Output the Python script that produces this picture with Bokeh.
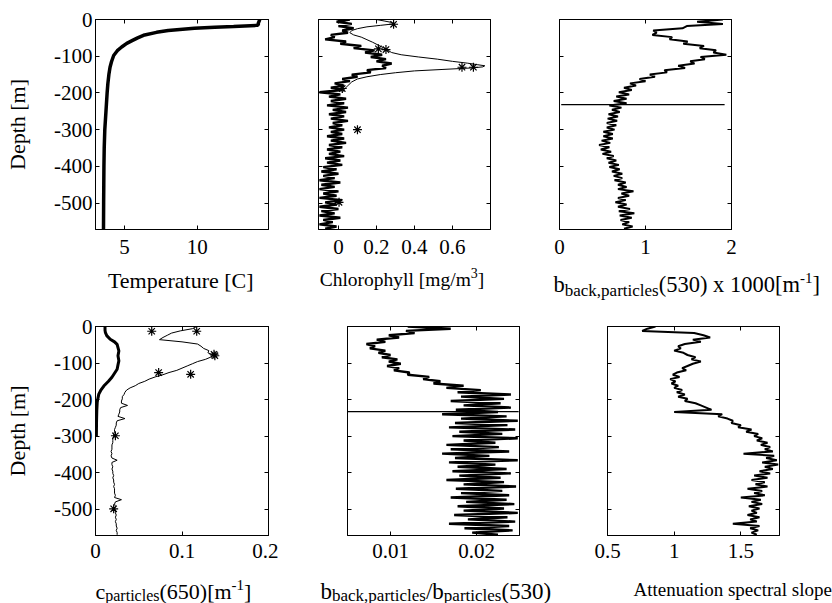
from bokeh.plotting import figure
from bokeh.models import Range1d, LinearAxis, FixedTicker
from bokeh.core.properties import value
from bokeh.layouts import row, column
from bokeh.embed import file_html
from bokeh.resources import INLINE

# ---------------------------------------------------------------- data
# common 6 m depth grid of the densely sampled profiles [m]
depth = [
    0, -6, -12, -18, -24, -30, -36, -42, -48, -54, -60, -66,
    -72, -78, -84, -90, -96, -102, -108, -114, -120, -126, -132, -138,
    -144, -150, -156, -162, -168, -174, -180, -186, -192, -198, -204, -210,
    -216, -222, -228, -234, -240, -246, -252, -258, -264, -270, -276, -282,
    -288, -294, -300, -306, -312, -318, -324, -330, -336, -342, -348, -354,
    -360, -366, -372, -378, -384, -390, -396, -402, -408, -414, -420, -426,
    -432, -438, -444, -450, -456, -462, -468, -474, -480, -486, -492, -498,
    -504, -510, -516, -522, -528, -534, -540, -546, -552, -558, -564, -570,
]

# temperature profile [C]
temp_depth = [0, -5, -10, -14, -16, -19, -21, -24, -27, -30, -35, -43, -50, -57, -65,
              -75, -85, -98, -115, -130, -150, -175, -200, -250, -300, -350, -400,
              -450, -500, -572]
temperature = [14.3, 14.25, 14.2, 14.2, 14.1, 12.5, 11.2, 9.8, 8.8, 8.0, 7.2, 6.3, 5.9,
               5.55, 5.15, 4.8, 4.5, 4.25, 4.1, 4.0, 3.92, 3.85, 3.8, 3.72, 3.64, 3.6,
               3.58, 3.57, 3.56, 3.55]

# chlorophyll, noisy fluorometer profile [mg/m3]
chl_profile = [
    0.06, -0.01, 0.07, 0.00, 0.08, 0.02, 0.05, -0.04, -0.02, -0.07, 0.04, 0.01,
    0.12, 0.08, 0.19, 0.14, 0.23, 0.17, 0.25, 0.20, 0.28, 0.23, 0.25, 0.15,
    0.17, 0.07, 0.10, 0.02, 0.06, -0.02, 0.03, -0.04, 0.02, -0.10, 0.01, -0.05,
    0.04, -0.04, 0.03, -0.06, 0.05, -0.03, 0.04, -0.05, 0.03, -0.04, 0.05, -0.03,
    0.02, -0.05, 0.03, -0.04, 0.02, -0.06, 0.03, -0.04, 0.04, -0.05, 0.02, -0.06,
    0.01, -0.05, 0.03, -0.07, 0.01, -0.06, 0.02, -0.08, -0.01, -0.09, 0.00, -0.08,
    -0.02, -0.10, 0.01, -0.09, -0.02, -0.10, 0.00, -0.08, -0.01, -0.10, 0.02, -0.07,
    -0.01, -0.10, 0.00, -0.09, -0.02, -0.10, 0.01, -0.08, -0.03, -0.10, -0.01, -0.07,
]
# chlorophyll, second (thin) profile
chl2_depth = [0, -4, -8, -12, -16, -20, -25, -30, -36, -42, -48, -55, -62, -70, -78, -84,
              -90, -96, -102, -108, -114, -119, -123, -126, -129, -132, -136, -140, -145,
              -150, -156, -162, -170, -180, -190, -200]
chl2 = [0.20, 0.24, 0.28, 0.29, 0.22, 0.15, 0.10, 0.07, 0.06, 0.08, 0.12, 0.15, 0.18, 0.21,
        0.24, 0.26, 0.28, 0.33, 0.42, 0.52, 0.60, 0.68, 0.73, 0.77, 0.76, 0.70, 0.55, 0.40,
        0.30, 0.22, 0.15, 0.10, 0.07, 0.05, 0.03, 0.02]
# bottle samples (stars)
chl_bottle_depth = [-13, -80, -82, -130, -130, -188, -300, -498]
chl_bottle = [0.29, 0.21, 0.25, 0.65, 0.71, 0.02, 0.10, 0.003]

# particulate backscattering b_bp(530) x 1000 [1/m]
bbp = [
    1.90, 1.60, 1.90, 1.48, 1.43, 1.09, 1.13, 1.08, 1.31, 1.28, 1.49, 1.44,
    1.68, 1.63, 1.82, 1.79, 1.94, 1.64, 1.69, 1.52, 1.57, 1.38, 1.46, 1.22,
    1.25, 1.05, 1.11, 0.93, 1.00, 0.82, 0.89, 0.75, 0.84, 0.69, 0.81, 0.66,
    0.78, 0.63, 0.78, 0.58, 0.72, 0.61, 0.70, 0.57, 0.68, 0.56, 0.67, 0.55,
    0.66, 0.55, 0.64, 0.51, 0.62, 0.51, 0.62, 0.49, 0.59, 0.46, 0.58, 0.48,
    0.60, 0.50, 0.63, 0.55, 0.66, 0.57, 0.69, 0.58, 0.70, 0.61, 0.73, 0.63,
    0.73, 0.64, 0.77, 0.68, 0.78, 0.68, 0.86, 0.72, 0.81, 0.68, 0.77, 0.65,
    0.78, 0.68, 0.82, 0.69, 0.87, 0.70, 0.84, 0.71, 0.81, 0.73, 0.85, 0.75,
]
spike_depth = [-232, -232]
bbp_spike = [0.02, 1.92]

# particulate beam attenuation c_p(650) [1/m]
cp = [
    0.117, 0.112, 0.098, 0.088, 0.083, 0.078, 0.074, 0.100, 0.118, 0.122, 0.125, 0.131,
    0.130, 0.136, 0.133, 0.127, 0.118, 0.112, 0.106, 0.100, 0.094, 0.085, 0.078, 0.069,
    0.062, 0.057, 0.050, 0.046, 0.040, 0.036, 0.034, 0.033, 0.031, 0.031, 0.030, 0.030,
    0.037, 0.029, 0.028, 0.028, 0.027, 0.026, 0.034, 0.025, 0.024, 0.024, 0.023, 0.022,
    0.022, 0.021, 0.021, 0.020, 0.020, 0.020, 0.019, 0.019, 0.019, 0.018, 0.019, 0.018,
    0.019, 0.025, 0.019, 0.019, 0.020, 0.019, 0.020, 0.020, 0.021, 0.020, 0.021, 0.021,
    0.022, 0.021, 0.022, 0.022, 0.022, 0.023, 0.022, 0.030, 0.023, 0.022, 0.023, 0.022,
    0.023, 0.023, 0.024, 0.023, 0.024, 0.023, 0.024, 0.024, 0.025, 0.024, 0.025, 0.025,
]
cp2_depth = [0, -10, -17, -25, -35, -42, -49, -58, -67, -80, -94, -105, -117, -128, -139,
             -150, -163, -175, -185, -200, -207, -230, -260, -300]
cp2 = [0.011, 0.011, 0.0115, 0.013, 0.017, 0.022, 0.025, 0.026, 0.027, 0.026, 0.027, 0.026,
       0.025, 0.022, 0.019, 0.015, 0.0096, 0.006, 0.0038, 0.0025, 0.002, 0.0015, 0.0012, 0.001]
cp_bottle_depth = [-13, -13, -76, -80, -126, -131, -299, -499]
cp_bottle = [0.065, 0.117, 0.137, 0.138, 0.073, 0.110, 0.023, 0.021]

# backscattering ratio b_bp/b_p(530)
bb_ratio = [
    0.0120, 0.0170, 0.0118, 0.0128, 0.0098, 0.0110, 0.0084, 0.0094, 0.0072, 0.0082, 0.0076, 0.0094,
    0.0086, 0.0100, 0.0090, 0.0108, 0.0098, 0.0112, 0.0096, 0.0110, 0.0104, 0.0122, 0.0120, 0.0145,
    0.0138, 0.0158, 0.0150, 0.0185, 0.0165, 0.0205, 0.0178, 0.0240, 0.0182, 0.0232, 0.0170, 0.0228,
    0.0185, 0.0240, 0.0176, 0.0225, 0.0160, 0.0235, 0.0182, 0.0248, 0.0175, 0.0236, 0.0168, 0.0245,
    0.0180, 0.0230, 0.0172, 0.0248, 0.0185, 0.0222, 0.0165, 0.0226, 0.0170, 0.0238, 0.0160, 0.0215,
    0.0175, 0.0248, 0.0168, 0.0222, 0.0178, 0.0235, 0.0172, 0.0240, 0.0180, 0.0228, 0.0165, 0.0232,
    0.0185, 0.0246, 0.0176, 0.0230, 0.0182, 0.0238, 0.0170, 0.0235, 0.0188, 0.0244, 0.0178, 0.0232,
    0.0185, 0.0248, 0.0174, 0.0236, 0.0190, 0.0245, 0.0168, 0.0238, 0.0186, 0.0242, 0.0195, 0.0225,
]
ratio_spike_depth = [-233, -233]
ratio_spike = [0.0050, 0.0249]

# attenuation spectral slope
slope = [
    0.86, 0.80, 0.76, 1.15, 1.22, 1.27, 1.14, 1.20, 1.08, 1.03, 1.05, 1.00,
    1.07, 1.10, 1.16, 1.13, 1.20, 1.14, 1.10, 1.06, 1.09, 1.02, 0.99, 1.04,
    0.97, 1.01, 0.98, 1.03, 1.00, 1.06, 1.02, 1.08, 1.03, 1.10, 1.08, 1.16,
    1.20, 1.24, 1.28, 1.00, 1.36, 1.33, 1.40, 1.44, 1.43, 1.50, 1.48, 1.58,
    1.54, 1.63, 1.60, 1.66, 1.62, 1.70, 1.65, 1.72, 1.68, 1.74, 1.52, 1.75,
    1.69, 1.77, 1.66, 1.78, 1.68, 1.74, 1.64, 1.72, 1.60, 1.70, 1.58, 1.68,
    1.61, 1.70, 1.55, 1.66, 1.60, 1.68, 1.50, 1.65, 1.58, 1.66, 1.56, 1.64,
    1.58, 1.62, 1.55, 1.64, 1.57, 1.62, 1.44, 1.64, 1.57, 1.63, 1.58, 1.62,
]

# ticks
depth_ticks = [-500, -400, -300, -200, -100, 0]
depth_tick_labels = ["-500", "-400", "-300", "-200", "-100", "0"]
temp_ticks, temp_tick_labels = [5, 10], ["5", "10"]
chl_ticks, chl_tick_labels = [0, 0.2, 0.4, 0.6], ["0", "0.2", "0.4", "0.6"]
bbp_ticks, bbp_tick_labels = [0, 1, 2], ["0", "1", "2"]
cp_ticks, cp_tick_labels = [0, 0.1, 0.2], ["0", "0.1", "0.2"]
ratio_ticks, ratio_tick_labels = [0.01, 0.02], ["0.01", "0.02"]
slope_ticks, slope_tick_labels = [0.5, 1, 1.5], ["0.5", "1", "1.5"]

for s in (chl_profile, bbp, cp, bb_ratio, slope):
    assert len(s) == len(depth), len(s)

# ---------------------------------------------------------------- style
FONT = "Liberation Serif"
TICK_PX = 21
LAB_PX = 22
YMIN = -572

# Times-compatible advance widths (1/1000 em) used to chain label pieces
TW = {' ': 250, '(': 333, ')': 333, '[': 333, ']': 333, '/': 278, ',': 250, '.': 250,
      '-': 333, 'a': 444, 'b': 500, 'c': 444, 'd': 500, 'e': 444, 'f': 333, 'g': 500,
      'h': 500, 'i': 278, 'k': 500, 'l': 278, 'm': 778, 'n': 500, 'o': 500, 'p': 500,
      'r': 333, 's': 389, 't': 278, 'u': 500, 'x': 500, 'y': 500, 'A': 722, 'C': 667,
      'T': 611}


def text_w(t, size):
    return sum(TW.get(ch, 500) for ch in t) * size / 1000.0


def make_axis(ticks, labels, standoff=3, axis_label=None):
    a = LinearAxis(ticker=FixedTicker(ticks=ticks), major_tick_in=4, major_tick_out=0,
                   minor_tick_in=0, minor_tick_out=0, minor_tick_line_color=None,
                   axis_line_color="black", axis_line_width=1,
                   major_tick_line_color="black", major_tick_line_width=1,
                   major_label_text_font=FONT, major_label_text_color="black")
    if labels is not None:
        a.major_label_overrides = {t: l for t, l in zip(ticks, labels)}
        a.major_label_text_font_size = f"{TICK_PX}px"
        a.major_label_standoff = standoff
    else:
        a.major_label_overrides = {t: "" for t in ticks}
        a.major_label_text_font_size = "1px"
        a.major_label_standoff = 0
    if axis_label:
        a.axis_label = axis_label
        a.axis_label_text_font = FONT
        a.axis_label_text_font_size = f"{LAB_PX}px"
        a.axis_label_text_font_style = "normal"
        a.axis_label_text_color = "black"
        a.axis_label_standoff = 21
    return a


def panel(xr, xticks, xlabels, width, height, bl, br, bt, bb, depth_axis, xstand):
    p = figure(width=width, height=height, x_range=Range1d(*xr), y_range=Range1d(YMIN, 0),
               output_backend="svg", toolbar_location=None,
               x_axis_location=None, y_axis_location=None,
               min_border_left=bl, min_border_right=br, min_border_top=bt, min_border_bottom=bb,
               outline_line_color="black", outline_line_width=1,
               background_fill_color="white", border_fill_color="white")
    p.grid.visible = False
    p.add_layout(make_axis(xticks, xlabels, standoff=xstand), "below")
    p.add_layout(make_axis(xticks, None), "above")
    if depth_axis:
        p.add_layout(make_axis(depth_ticks, depth_tick_labels, standoff=3,
                               axis_label="Depth [m]"), "left")
    else:
        p.add_layout(make_axis(depth_ticks, None), "left")
    p.add_layout(make_axis(depth_ticks, None), "right")
    return p


def label_fig(width, height, segs, x0, y0, align="left"):
    """A text-only strip below a panel; 1 data unit == 1 pixel."""
    f = figure(width=width, height=height, x_range=Range1d(0, width), y_range=Range1d(0, height),
               output_backend="svg", toolbar_location=None,
               x_axis_location=None, y_axis_location=None,
               min_border_left=0, min_border_right=0, min_border_top=0, min_border_bottom=0,
               outline_line_color=None, background_fill_color="white", border_fill_color="white")
    f.grid.visible = False
    total = sum(text_w(t, s) for t, s, dy in segs)
    x = x0 - total / 2.0 if align == "center" else x0
    for t, s, dy in segs:
        f.text(x=[x], y=[y0 + dy], text=[t], text_font=value(FONT),
               text_font_size=value(f"{s}px"), text_color="black",
               text_baseline="alphabetic", text_align="left")
        x += text_w(t, s)
    return f


# ---------------------------------------------------------------- top row
# (Bokeh's page template has no body margin: layout pixels == picture pixels)
H1, T1, B1 = 264, 19, 35
L1 = 48
p1 = panel((3.0, 14.9), temp_ticks, temp_tick_labels, 278, H1, 95, 10, T1, B1, True, 10)
p1.line(temperature, temp_depth, line_color="black", line_width=3.5)
l1 = label_fig(278, L1, [("Temperature [C]", 22, 0)], 181, 32, "center")

p2 = panel((-0.105, 0.8), chl_ticks, chl_tick_labels, 222, H1, 40, 10, T1, B1, False, 10)
p2.line(chl_profile, depth, line_color="black", line_width=2.4)
p2.line(chl2, chl2_depth, line_color="black", line_width=1)
p2.scatter(chl_bottle, chl_bottle_depth, marker="asterisk", size=9,
           line_color="black", line_width=1.2)
l2 = label_fig(222, L1, [("Chlorophyll [mg/m", 19.5, 0), ("3", 14, 7), ("]", 19.5, 0)],
               123.5, 33, "center")

p3 = panel((0, 2), bbp_ticks, bbp_tick_labels, 332, H1, 59, 101, T1, B1, False, 10)
p3.line(bbp, depth, line_color="black", line_width=2.0)
p3.line(bbp_spike, spike_depth, line_color="black", line_width=1.2)
l3 = label_fig(332, L1, [("b", 22.5, 0), ("back,particles", 17, -6),
                         ("(530) x 1000[m", 22.5, 0), ("-1", 15, 7), ("]", 22.5, 0)], 53, 28)

# ---------------------------------------------------------------- bottom row
H2, T2, B2 = 256, 14, 33
L2 = 35
p4 = panel((0, 0.2), cp_ticks, cp_tick_labels, 278, H2, 95, 10, T2, B2, True, 8)
p4.line(cp2, cp2_depth, line_color="black", line_width=3)
p4.line(cp, depth, line_color="black", line_width=1)
p4.scatter(cp_bottle, cp_bottle_depth, marker="asterisk", size=9,
           line_color="black", line_width=1.2)
l4 = label_fig(278, L2, [("c", 22, 0), ("particles", 16, -4),
                         ("(650)[m", 22, 0), ("-1", 15, 6), ("]", 22, 0)], 95, 12.5)

p5 = panel((0.005, 0.025), ratio_ticks, ratio_tick_labels, 287, H2, 69, 46, T2, B2, False, 8)
p5.line(bb_ratio, depth, line_color="black", line_width=2.4)
p5.line(ratio_spike, ratio_spike_depth, line_color="black", line_width=1.2)
l5 = label_fig(287, L2, [("b", 23, 0), ("back,particles", 17, -4), ("/", 23, 0),
                         ("b", 23, 0), ("particles", 17, -4), ("(530)", 23, 0)], 42, 12.5)

p6 = panel((0.5, 1.79), slope_ticks, slope_tick_labels, 267, H2, 42, 53, T2, B2, False, 8)
p6.line(slope, depth, line_color="black", line_width=2.0)
l6 = label_fig(267, L2, [("Attenuation spectral slope", 19, 0)], 68, 14)

layout = column(row(p1, p2, p3), row(l1, l2, l3), row(p4, p5, p6), row(l4, l5, l6))
open("out.html", "w").write(file_html(layout, INLINE))
